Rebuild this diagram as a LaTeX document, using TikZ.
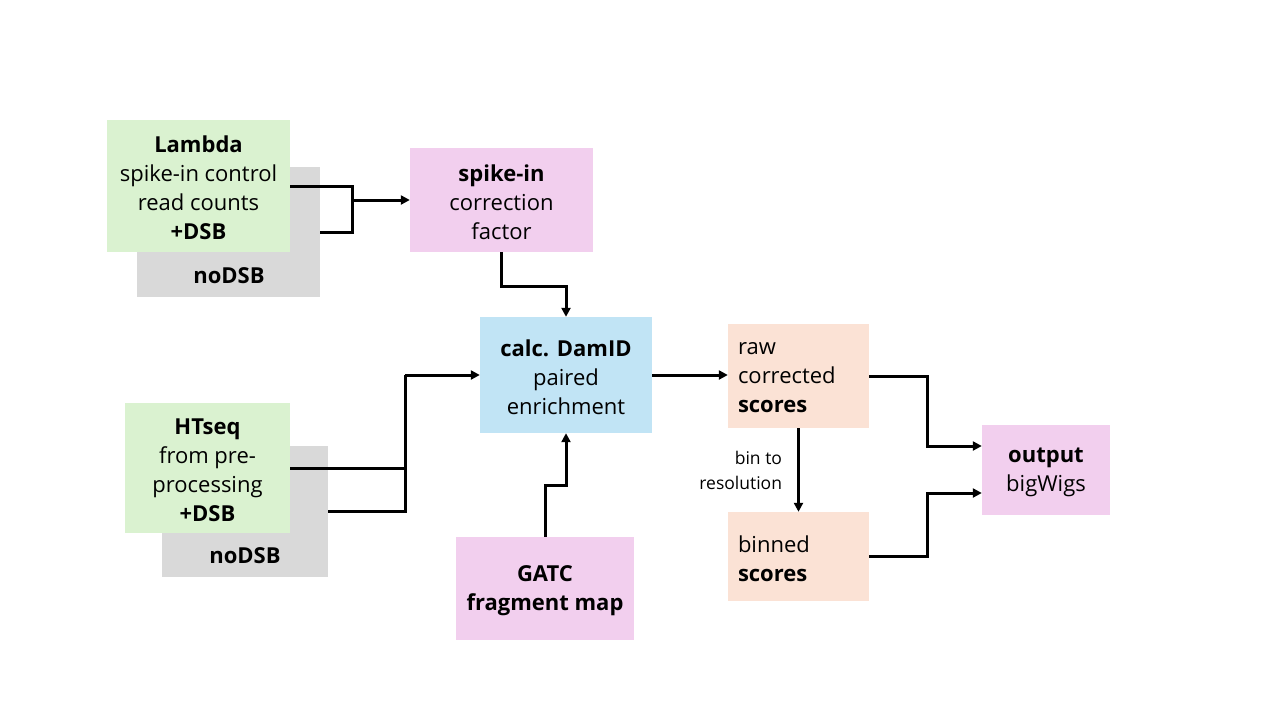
\documentclass[tikz,border=0pt]{standalone}
\usepackage{fontspec}
\setmainfont{Open Sans}
\usetikzlibrary{arrows.meta,calc}
\definecolor{cgreen}{HTML}{DAF2D0}
\definecolor{cgray}{HTML}{D9D9D9}
\definecolor{cpink}{HTML}{F2CFEE}
\definecolor{cblue}{HTML}{C1E4F5}
\definecolor{cpeach}{HTML}{FBE2D5}
\tikzset{
  boxbase/.style={draw=none, inner sep=0pt},
  greenbox/.style={boxbase, fill=cgreen},
  graybox/.style={boxbase, fill=cgray},
  pinkbox/.style={boxbase, fill=cpink},
  bluebox/.style={boxbase, fill=cblue},
  peachbox/.style={boxbase, fill=cpeach},
  boxtext/.style={inner sep=0pt, align=center, yshift=-2pt, font=\fontsize{22}{29}\selectfont},
  lefttext/.style={boxtext, align=left, text width=121pt},
  lbl/.style={inner sep=0pt, font=\fontsize{22}{29}\selectfont\bfseries},
  smalllbl/.style={inner sep=0pt, align=right, font=\fontsize{17.5}{25}\selectfont},
  conn/.style={line width=3pt, black},
  arr/.style={conn, -{Triangle[length=9pt,width=9pt]}}
}
\begin{document}
\begin{tikzpicture}[x=1pt,y=-1pt]
\useasboundingbox (0,0) rectangle (1280,720);
% Lambda group
\node[graybox, minimum width=183, minimum height=130] (lamd) at (228.5,232) {};
\node[lbl] (lamdt) at (229,276) {noDSB};
\node[greenbox, minimum width=183, minimum height=132,
  label={[boxtext]center:\textbf{Lambda}\\spike-in control\\read counts\\\textbf{+DSB}}] (lamg) at (198.5,186) {};
% spike-in
\node[pinkbox, minimum width=183, minimum height=104,
  label={[boxtext]center:\textbf{spike-in}\\correction\\factor}] (spike) at (501.5,200) {};
% HTseq group
\node[graybox, minimum width=166, minimum height=131] (htd) at (245,511.5) {};
\node[lbl] (htdt) at (245,556) {noDSB};
\node[greenbox, minimum width=165, minimum height=130,
  label={[boxtext]center:\textbf{HTseq}\\from pre-\\processing\\\textbf{+DSB}}] (htg) at (207.5,468) {};
% DamID
\node[bluebox, minimum width=172, minimum height=116,
  label={[boxtext]center:\textbf{calc. DamID}\\paired\\enrichment}] (damid) at (566,375) {};
% GATC
\node[pinkbox, minimum width=178, minimum height=103,
  label={[boxtext]center:\textbf{GATC}\\\textbf{fragment map}}] (gatc) at (545,588.5) {};
% raw
\node[peachbox, minimum width=141, minimum height=104,
  label={[lefttext]center:raw\\corrected\\\textbf{scores}}] (raw) at (798.5,376) {};
% binned
\node[peachbox, minimum width=141, minimum height=89,
  label={[lefttext]center:binned\\\textbf{scores}}] (binned) at (798.5,556.5) {};
% output
\node[pinkbox, minimum width=128, minimum height=90,
  label={[boxtext]center:\textbf{output}\\bigWigs}] (out) at (1046,470) {};

% connectors
\coordinate (j1) at (352,200);
\draw[conn] (lamg.east) -| (j1);
\draw[conn] (lamd.east) -| (j1);
\draw[arr] (j1) -- (spike.west);
\draw[arr] (spike.south) -- ++(0,34) -| (damid.north);
\coordinate (j2) at (405,375);
\draw[conn] (htg.east) -| (j2);
\draw[conn] (htd.east) -| (j2);
\draw[arr] (j2) -- (damid.west);
\draw[arr] (gatc.north) -- ++(0,-51) -| (damid.south);
\draw[arr] (damid.east) -- (damid.east -| raw.west);
\draw[arr] (raw.south) -- node[smalllbl, left=15pt, pos=0.5] (bintxt) {bin to\\resolution} (binned.north);
\draw[arr] (raw.east) -- ++(58,0) |- ($(out.west)+(0,-24)$);
\draw[arr] (binned.east) -- ++(58,0) |- ($(out.west)+(0,23)$);
\end{tikzpicture}
\end{document}
